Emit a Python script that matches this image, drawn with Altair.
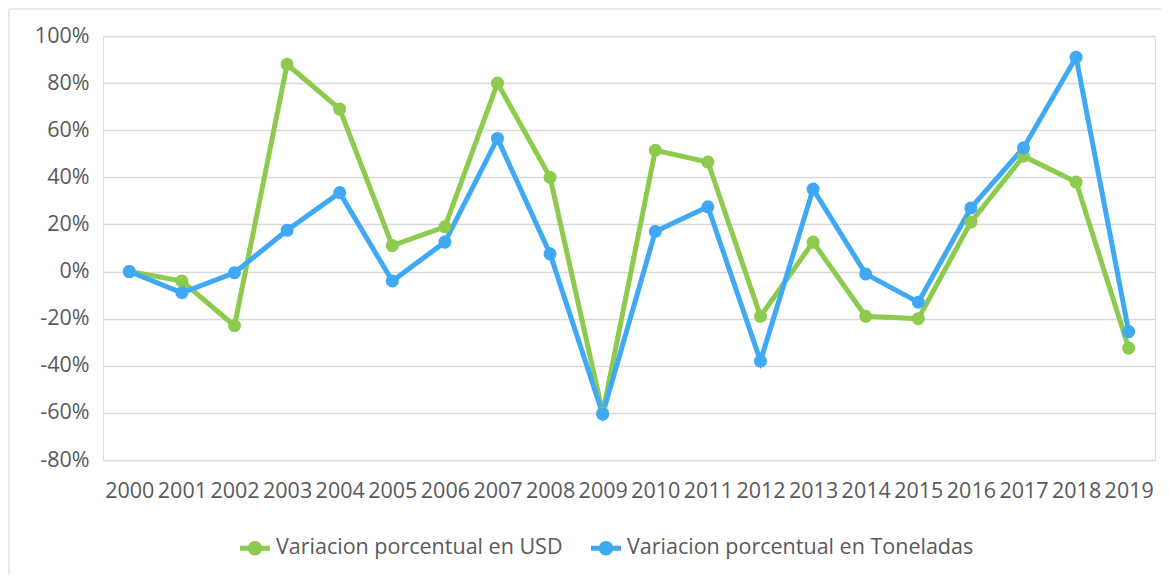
import altair as alt
import pandas as pd

years = [str(y) for y in range(2000, 2020)]
usd = [0, -4, -23, 88, 69, 11, 19, 80, 40, -60, 51.5, 46.5, -19, 12.5, -19, -20, 21, 49, 38, -32.5]
ton = [0, -9, -0.5, 17.5, 33.5, -4, 12.5, 56.5, 7.5, -60.5, 17, 27.5, -38, 35, -1, -13, 27, 52.5, 91, -25.5]
series = ["Variacion porcentual en USD", "Variacion porcentual en Toneladas"]
colors = ["#8CCB4D", "#3FA9F5"]

rows = []
for s, vals in zip(series, [usd, ton]):
    for y, v in zip(years, vals):
        rows.append({"Año": y, "Serie": s, "Valor": v / 100.0})
df = pd.DataFrame(rows)

FONT = "Open Sans"
GREY = "#595959"
FS = 21.5

x = alt.X("Año:N", sort=years, title=None,
          scale=alt.Scale(paddingInner=0, paddingOuter=0.5),
          axis=alt.Axis(labelAngle=0, ticks=False, domain=False, grid=False,
                        labelFont=FONT, labelFontSize=FS, labelColor=GREY,
                        labelPadding=20, labelOverlap=False))
y = alt.Y("Valor:Q", title=None,
          scale=alt.Scale(domain=[-0.8, 1.0], nice=False, zero=False),
          axis=alt.Axis(values=[-0.8, -0.6, -0.4, -0.2, 0, 0.2, 0.4, 0.6, 0.8, 1.0],
                        labelExpr="round(datum.value * 100) + '%'",
                        ticks=False, domain=False, grid=True, gridColor="#D9D9D9", gridWidth=1.5,
                        labelFont=FONT, labelFontSize=FS, labelColor=GREY, labelPadding=14))
scale = alt.Scale(domain=series, range=colors)
color = alt.Color("Serie:N", sort=series, scale=scale,
                  legend=alt.Legend(title=None, orient="none", direction="horizontal",
                                    legendX=137, legendY=497,
                                    symbolType="M-1,-0.17L1,-0.17L1,0.17L-1,0.17Z M0.48,0A0.48,0.48,0,1,1,-0.48,0A0.48,0.48,0,1,1,0.48,0Z",
                                    symbolSize=900, symbolStrokeWidth=0, symbolOpacity=1,
                                    labelFont=FONT, labelFontSize=FS, labelColor=GREY,
                                    labelLimit=500, columnPadding=28, labelOffset=6))

lines = alt.Chart(df).mark_line(strokeWidth=5).encode(
    x=x, y=y, color=alt.Color("Serie:N", sort=series, scale=scale, legend=None),
    detail="Serie:N")
points = alt.Chart(df).mark_point(filled=True, size=170, opacity=1).encode(
    x=x, y=y, color=color)

frame_top = alt.Chart(df).mark_rule(color="#E8E8E8", strokeWidth=1.5).encode(
    x=alt.value(-94), x2=alt.value(1060), y=alt.value(-27))
frame_left = alt.Chart(df).mark_rule(color="#E8E8E8", strokeWidth=1.5).encode(
    x=alt.value(-94), y=alt.value(-27), y2=alt.value(547))

chart = alt.layer(frame_top, frame_left, lines, points).resolve_legend(
    color="independent"
).properties(
    width=1052, height=424,
    autosize=alt.AutoSizeParams(type="none"),
    padding={"left": 95, "top": 28, "right": 6, "bottom": 115},
).configure_view(strokeWidth=0, stroke="transparent").configure(background="white")

chart.save("out.html", embed_options={"renderer": "svg", "actions": False})
